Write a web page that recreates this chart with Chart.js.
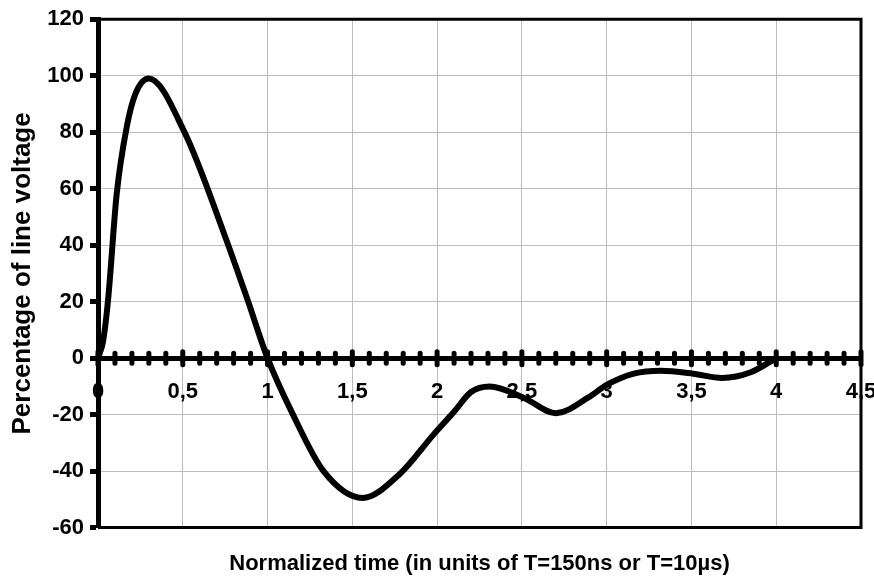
<!DOCTYPE html>
<html>
<head>
<meta charset="utf-8">
<script src="https://cdn.jsdelivr.net/npm/chart.js@4.4.1/dist/chart.umd.min.js"></script>
<style>
  html, body { margin: 0; padding: 0; background: #fff; }
</style>
</head>
<body>
<canvas id="surgeChart" width="874" height="577"></canvas>
<script>
// ---------------------
// DATA
// ---------------------
const timeValues = [0, 0.03, 0.06, 0.11, 0.17, 0.22, 0.30, 0.51, 0.75, 0.88, 1.0,
  1.15, 1.33, 1.56, 1.78, 1.98, 2.10, 2.20, 2.31, 2.51, 2.70, 2.89, 3.0, 3.16, 3.32, 3.51, 3.68, 3.85, 4.0];
const voltageValues = [0, 6, 21, 58, 82, 93.5, 99, 80, 43, 21, 0,
  -20, -40, -49.5, -41, -27, -19, -12, -10, -14, -19.5, -14, -9.5, -5.5, -4.5, -5.5, -7, -5, 0];
const xTickLabels = ["0", "0,5", "1", "1,5", "2", "2,5", "3", "3,5", "4", "4,5"];
const yTickValues = [-60, -40, -20, 0, 20, 40, 60, 80, 100, 120];
const xMinorStep = 0.1;

const FONT = "'Liberation Sans', Arial, sans-serif";

// ---------------------
// Frame + crossing ticks on the zero line
// ---------------------
const frameAndTicks = {
  id: "frameAndTicks",
  beforeDatasetsDraw(chart) {
    const { ctx, chartArea: a, scales } = chart;
    const xs = scales.x;
    const y0 = scales.y.getPixelForValue(0);

    ctx.save();
    // top / right / bottom frame
    ctx.strokeStyle = "#000";
    ctx.lineWidth = 3;
    ctx.beginPath();
    ctx.moveTo(a.left, a.top);
    ctx.lineTo(a.right, a.top);
    ctx.lineTo(a.right, a.bottom);
    ctx.lineTo(a.left, a.bottom);
    ctx.stroke();

    // tick marks crossing the zero axis (major every 0.5, minor every 0.1)
    ctx.lineCap = "round";
    ctx.lineWidth = 5;
    const steps = Math.round((xs.max - xs.min) / xMinorStep);
    for (let i = 0; i <= steps; i++) {
      const v = xs.min + i * xMinorStep;
      const px = xs.getPixelForValue(v);
      const half = i % 5 === 0 ? 6.5 : 5;
      ctx.beginPath();
      ctx.moveTo(px, y0 - half);
      ctx.lineTo(px, y0 + half);
      ctx.stroke();
    }
    ctx.restore();
  },
};

const points = timeValues.map((t, i) => ({ x: t, y: voltageValues[i] }));

new Chart(document.getElementById("surgeChart"), {
  type: "line",
  data: {
    datasets: [
      {
        data: points,
        borderColor: "#000",
        borderWidth: 6,
        borderCapStyle: "round",
        borderJoinStyle: "round",
        pointRadius: 0,
        cubicInterpolationMode: "monotone",
        clip: 8,
      },
    ],
  },
  options: {
    responsive: false,
    animation: false,
    layout: { padding: { left: 0, top: 8, right: 13, bottom: 0 } },
    plugins: {
      legend: { display: false },
      tooltip: { enabled: false },
    },
    scales: {
      x: {
        type: "linear",
        position: { y: 0 },
        min: 0,
        max: 4.5,
        afterBuildTicks(scale) {
          scale.ticks = xTickLabels.map((_, i) => ({ value: i * 0.5 }));
        },
        afterFit(scale) {
          scale.paddingLeft = 0;
          scale.paddingRight = 0;
        },
        ticks: {
          autoSkip: false,
          maxRotation: 0,
          padding: 21,
          color: "#000",
          font: { family: FONT, size: 22, weight: "bold" },
          callback: (v, i) => xTickLabels[i],
        },
        grid: { color: "#bdbdbd", lineWidth: 1, drawTicks: false },
        border: { display: true, color: "#000", width: 5 },
      },
      // bottom axis only carries the x title, centred under the plot
      xTitle: {
        type: "linear",
        position: "bottom",
        min: 0,
        max: 4.5,
        ticks: { display: false },
        grid: { display: false, drawTicks: false },
        border: { display: false },
        afterFit(scale) {
          scale.paddingLeft = 0;
          scale.paddingRight = 0;
        },
        title: {
          display: true,
          text: "Normalized time (in units of T=150ns or T=10µs)",
          color: "#000",
          font: { family: FONT, size: 22, weight: "bold" },
          padding: { top: 23, bottom: 0 },
        },
      },
      y: {
        min: -60,
        max: 120,
        afterBuildTicks(scale) {
          scale.ticks = yTickValues.map((v) => ({ value: v }));
        },
        afterFit(scale) {
          scale.width = 98;
        },
        ticks: {
          padding: 6,
          color: "#000",
          font: { family: FONT, size: 22, weight: "bold" },
        },
        grid: {
          color: "#bdbdbd",
          lineWidth: 1,
          tickColor: "#000",
          tickWidth: 5,
          tickLength: 8,
        },
        border: { display: true, color: "#000", width: 5 },
        title: {
          display: true,
          text: "Percentage of line voltage",
          color: "#000",
          font: { family: FONT, size: 26, weight: "bold" },
          padding: { top: 7, bottom: 0 },
        },
      },
    },
  },
  plugins: [frameAndTicks],
});
</script>
</body>
</html>
